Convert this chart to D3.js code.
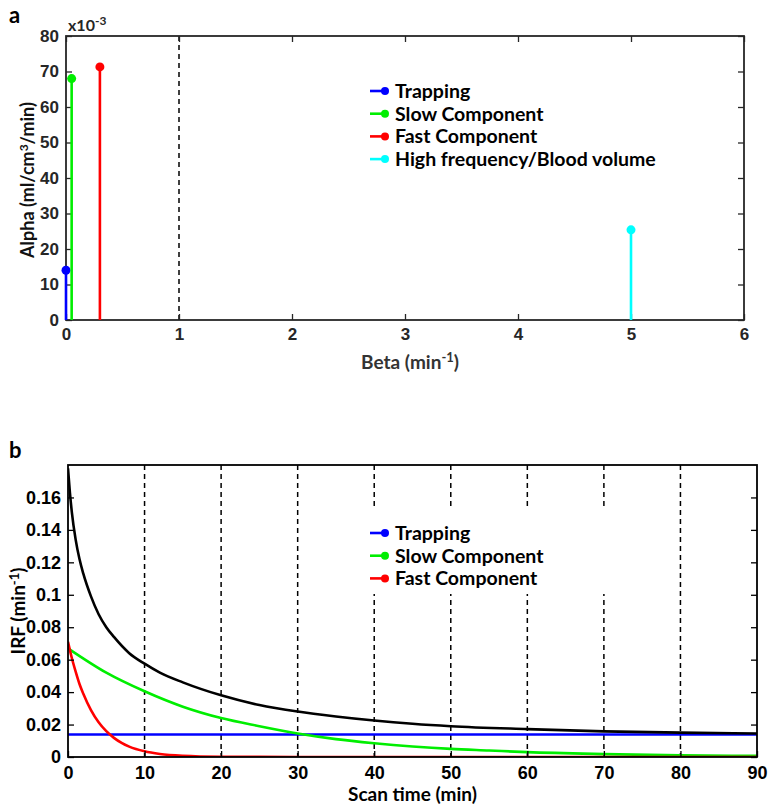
<!DOCTYPE html>
<html><head><meta charset="utf-8">
<script src="https://cdn.jsdelivr.net/npm/d3@7/dist/d3.min.js"></script>
<style>body{margin:0;background:#fff;} svg{display:block;font-family:Lato,"Open Sans",sans-serif;}</style>
</head><body><svg id="c" width="768" height="806"></svg>
<script>
// ---- Panel a data (alpha in units of 1e-3 vs beta) ----
const stemNames = ["Trapping","Slow Component","Fast Component","High frequency/Blood volume"];
const stemColors = ["#0000ff","#00ee00","#ff0000","#00ffff"];
const stemBeta = [0, 0.05, 0.3, 5];
const stemAlpha = [14, 68, 71.3, 25.4];
const aXTicks = [0,1,2,3,4,5,6];
const aYTicks = [0,10,20,30,40,50,60,70,80];
const aDashed = [1];

// ---- Panel b data (IRF vs scan time) ----
const bNames = ["Trapping","Slow Component","Fast Component"];
const bColors = ["#0000ff","#00ee00","#ff0000"];
const trapT = [0, 90];
const trapV = [0.0139, 0.0139];
const slowT = [0,5,10,15,20,25,30,35,40,45,50,55,60,70,80,90];
const slowV = [0.067,0.052,0.0405,0.031,0.024,0.019,0.0145,0.011,0.0085,0.0065,0.005,0.004,0.003,0.0018,0.001,0.0007];
const fastT = [0,0.5,1,1.5,2,3,4,5,6,7,8,10,12,15,20,25,30,90];
const fastV = [0.071,0.061,0.0526,0.045,0.039,0.0289,0.0214,0.0159,0.0118,0.0087,0.0064,0.0035,0.0019,0.0008,0.0002,0.0001,0,0];
const totT = [0,0.25,0.5,1,1.5,2,3,4,5,6,8,10,12,15,20,25,30,35,40,45,50,60,70,80,90];
const totV = [0.178,0.163,0.151,0.134,0.122,0.113,0.099,0.088,0.080,0.074,0.064,0.0575,0.052,0.046,0.038,0.032,0.028,0.025,0.0225,0.0205,0.019,0.0172,0.0158,0.015,0.0145];
const bXTicks = [0,10,20,30,40,50,60,70,80,90];
const bYTicks = [0,0.02,0.04,0.06,0.08,0.1,0.12,0.14,0.16];
const bDashed = [10,20,30,40,50,60,70,80];

const svg = d3.select("#c");

// ================= Panel a =================
const ax = d3.scaleLinear().domain([0,6]).range([66,744]);
const ay = d3.scaleLinear().domain([0,80]).range([320,36]);
const ga = svg.append("g");
const aCol = "#262626";

ga.selectAll("line.dash").data(aDashed).join("line")
  .attr("x1",d=>ax(d)).attr("x2",d=>ax(d)).attr("y1",ay(80)).attr("y2",ay(0))
  .attr("stroke","#000").attr("stroke-width",1.5).attr("stroke-dasharray","5,4");

function styleAxis(g, col, fs){
  g.select(".domain").remove();
  g.selectAll(".tick line").attr("stroke",col).attr("stroke-width",1.3);
  g.selectAll(".tick text").attr("fill",col).attr("font-size",fs).attr("font-weight","bold");
}
const aBot = ga.append("g").attr("transform",`translate(0,${ay(0)})`)
  .call(d3.axisBottom(ax).tickValues(aXTicks).tickFormat(d3.format("d")).tickSize(-6).tickPadding(8));
styleAxis(aBot,aCol,17);
const aTop = ga.append("g").attr("transform",`translate(0,${ay(80)})`)
  .call(d3.axisTop(ax).tickValues(aXTicks).tickFormat("").tickSize(-6));
styleAxis(aTop,aCol,17);
const aLeft = ga.append("g").attr("transform",`translate(${ax(0)},0)`)
  .call(d3.axisLeft(ay).tickValues(aYTicks).tickFormat(d3.format("d")).tickSize(-6).tickPadding(7));
styleAxis(aLeft,aCol,17);
const aRight = ga.append("g").attr("transform",`translate(${ax(6)},0)`)
  .call(d3.axisRight(ay).tickValues(aYTicks).tickFormat("").tickSize(-6));
styleAxis(aRight,aCol,17);
ga.append("rect").attr("x",ax(0)).attr("y",ay(80)).attr("width",ax(6)-ax(0)).attr("height",ay(0)-ay(80))
  .attr("fill","none").attr("stroke",aCol).attr("stroke-width",1.8);

// stems
const stems = ga.selectAll("g.stem").data(stemBeta.map((b,i)=>({b,a:stemAlpha[i],c:stemColors[i]}))).join("g");
stems.append("line").attr("x1",d=>ax(d.b)).attr("x2",d=>ax(d.b)).attr("y1",ay(0)).attr("y2",d=>ay(d.a))
  .attr("stroke",d=>d.c).attr("stroke-width",2.6);
stems.append("circle").attr("cx",d=>ax(d.b)).attr("cy",d=>ay(d.a)).attr("r",4.5).attr("fill",d=>d.c);

// exponent label
const ex = ga.append("text").attr("x",68).attr("y",31).attr("font-size",16).attr("font-weight","bold").attr("fill",aCol);
ex.append("tspan").text("x10");
ex.append("tspan").attr("dy",-6).attr("font-size",12).text("-3");

// y label
const aYL = ga.append("text").attr("transform",`translate(34,${(ay(0)+ay(80))/2+2}) rotate(-90)`)
  .attr("text-anchor","middle").attr("font-size",18).attr("font-weight","bold").attr("fill","#111");
aYL.append("tspan").text("Alpha (ml/cm");
aYL.append("tspan").attr("dy",-6).attr("font-size",12).text("3");
aYL.append("tspan").attr("dy",6).text("/min)");

// x label
const aXL = ga.append("text").attr("x",410).attr("y",369).attr("text-anchor","middle")
  .attr("font-size",19).attr("font-weight","bold").attr("fill","#333");
aXL.append("tspan").text("Beta (min");
aXL.append("tspan").attr("dy",-7).attr("font-size",13).text("-1");
aXL.append("tspan").attr("dy",7).text(")");

// legends
function legend(g, names, colors, y0){
  const lg = g.append("g");
  const rows = lg.selectAll("g").data(names).join("g").attr("transform",(d,i)=>`translate(370,${y0+i*22.7})`);
  rows.append("line").attr("x1",0).attr("x2",15).attr("y1",0).attr("y2",0)
    .attr("stroke",(d,i)=>colors[i]).attr("stroke-width",2.6);
  rows.append("circle").attr("cx",15).attr("cy",0).attr("r",4).attr("fill",(d,i)=>colors[i]);
  rows.append("text").attr("x",25).attr("y",0).attr("dy","0.35em").attr("font-size",19.5)
    .attr("font-weight","bold").attr("fill","#000").text(d=>d);
}
legend(ga, stemNames, stemColors, 91);

ga.append("text").attr("x",9).attr("y",23).attr("font-size",22).attr("font-weight","bold").text("a");

// ================= Panel b =================
const bx = d3.scaleLinear().domain([0,90]).range([68,757]);
const by = d3.scaleLinear().domain([0,0.18]).range([757,465]);
const gb = svg.append("g");

gb.selectAll("line.dash").data(bDashed).join("line")
  .attr("x1",d=>bx(d)).attr("x2",d=>bx(d)).attr("y1",by(0.18)).attr("y2",by(0))
  .attr("stroke","#000").attr("stroke-width",1.5).attr("stroke-dasharray","5,4");

// legend box masking the dashed lines
gb.append("rect").attr("x",362).attr("y",510).attr("width",300).attr("height",84).attr("fill","#fff");

svg.append("defs").append("clipPath").attr("id","clipb").append("rect")
  .attr("x",bx(0)).attr("y",by(0.18)).attr("width",bx(90)-bx(0)).attr("height",by(0)-by(0.18));

const line = d3.line().x(d=>bx(d[0])).y(d=>by(d[1])).curve(d3.curveMonotoneX);
const series = [
  {t:trapT,v:trapV,c:"#0000ff"},
  {t:slowT,v:slowV,c:"#00ee00"},
  {t:fastT,v:fastV,c:"#ff0000"},
  {t:totT,v:totV,c:"#000000"}
];
gb.append("g").attr("clip-path","url(#clipb)").selectAll("path").data(series).join("path")
  .attr("d",s=>line(s.t.map((t,i)=>[t,s.v[i]])))
  .attr("fill","none").attr("stroke",s=>s.c).attr("stroke-width",2.6);

const bBot = gb.append("g").attr("transform",`translate(0,${by(0)})`)
  .call(d3.axisBottom(bx).tickValues(bXTicks).tickFormat(d3.format("d")).tickSize(-6).tickPadding(9));
styleAxis(bBot,"#000",18);
const bLeft = gb.append("g").attr("transform",`translate(${bx(0)},0)`)
  .call(d3.axisLeft(by).tickValues(bYTicks).tickFormat(d=>d===0?"0":d3.format("")(+d.toFixed(2))).tickSize(-6).tickPadding(7));
styleAxis(bLeft,"#000",18);
const bRight = gb.append("g").attr("transform",`translate(${bx(90)},0)`)
  .call(d3.axisRight(by).tickValues(bYTicks).tickFormat("").tickSize(-6));
styleAxis(bRight,"#000",18);
gb.append("rect").attr("x",bx(0)).attr("y",by(0.18)).attr("width",bx(90)-bx(0)).attr("height",by(0)-by(0.18))
  .attr("fill","none").attr("stroke","#000").attr("stroke-width",1.8);

legend(gb, bNames, bColors, 533);

const bYL = gb.append("text").attr("transform",`translate(25,${(by(0)+by(0.18))/2}) rotate(-90)`)
  .attr("text-anchor","middle").attr("font-size",19).attr("font-weight","bold").attr("fill","#000");
bYL.append("tspan").text("IRF (min");
bYL.append("tspan").attr("dy",-6).attr("font-size",13).text("-1");
bYL.append("tspan").attr("dy",6).text(")");

gb.append("text").attr("x",bx(45)).attr("y",801).attr("text-anchor","middle").attr("font-size",19)
  .attr("font-weight","bold").attr("fill","#000").text("Scan time (min)");

gb.append("text").attr("x",9).attr("y",458).attr("font-size",22).attr("font-weight","bold").text("b");
</script></body></html>
